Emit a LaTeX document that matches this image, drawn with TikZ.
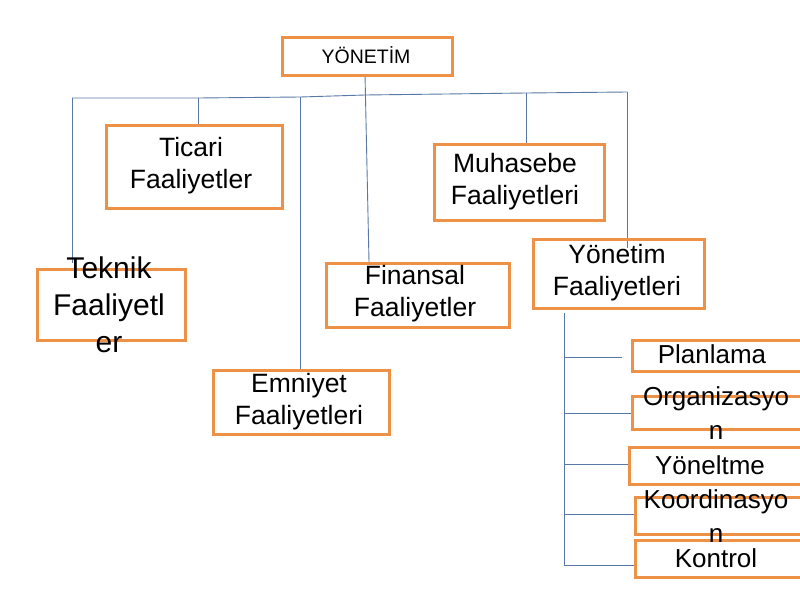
\documentclass[tikz,border=0pt]{standalone}
\usepackage{fontspec}
\setmainfont{Liberation Sans}
\definecolor{boxorange}{RGB}{236,145,70}
\definecolor{linkblue}{RGB}{88,120,165}
\tikzset{
  box/.style={draw=boxorange, line width=2.5pt, rectangle, inner sep=0pt, anchor=north west, fill=none},
  conn/.style={draw=linkblue, line width=0.9pt},
  lbl/.style={align=center, inner sep=0pt, font=\fontsize{26.5}{32}\selectfont},
  biglbl/.style={align=center, inner sep=0pt, font=\fontsize{30}{37}\selectfont},
  smalllbl/.style={align=center, inner sep=0pt, font=\fontsize{19.5}{23}\selectfont},
  sidelbl/.style={align=center, inner sep=0pt, font=\fontsize{26}{34}\selectfont}
}
\begin{document}
\begin{tikzpicture}[x=1pt,y=-1pt]
\useasboundingbox (0,0) rectangle (800,600);
\clip (0,0) rectangle (800,600);
\fill[white] (0,0) rectangle (800,600);

% junction coordinates on the top bar
\coordinate (bL) at (72,98);
\coordinate (bT) at (198,98);
\coordinate (bE) at (300,97);
\coordinate (bY) at (365,95);
\coordinate (bM) at (526,93);
\coordinate (bR) at (627,92);
\coordinate (fT) at (369,262);
\coordinate (yfIn) at (627,248);
\coordinate (tTop) at (564,313);
\coordinate (tBot) at (564,565);
\coordinate (t1) at (564,357);
\coordinate (t2) at (564,413);
\coordinate (t3) at (564,464);
\coordinate (t4) at (564,514);
\coordinate (t5) at (564,565);
\coordinate (e1) at (622,357);

% connectors (drawn first)
\draw[conn] (bL) -- (bT) -- (bE) -- (bY) -- (bM) -- (bR);
\draw[conn] (365,74) -- (fT);
\draw[conn] (bL) -- (72,263);
\draw[conn] (bT) -- (198,124);
\draw[conn] (bE) -- (300,370);
\draw[conn] (bM) -- (526,143);
\draw[conn] (bR) -- (yfIn);
\draw[conn] (tTop) -- (tBot);

% boxes
\node[box, minimum width=170pt, minimum height=38pt] (yon) at (281,36) {};
\node[box, minimum width=176pt, minimum height=83pt] (tic) at (105,124) {};
\node[box, minimum width=148pt, minimum height=71pt] (tek) at (36,268) {};
\node[box, minimum width=176pt, minimum height=64pt] (emn) at (212,369) {};
\node[box, minimum width=183pt, minimum height=64pt] (fin) at (325,262) {};
\node[box, minimum width=170pt, minimum height=76pt] (muh) at (433,143) {};
\node[box, minimum width=171pt, minimum height=69pt] (yf) at (532,238) {};
\node[box, minimum width=180pt, minimum height=31pt] (pla) at (631,339) {};
\node[box, minimum width=180pt, minimum height=33pt] (org) at (631,395) {};
\node[box, minimum width=180pt, minimum height=37pt] (ynl) at (628,446) {};
\node[box, minimum width=180pt, minimum height=37pt] (koo) at (634,496) {};
\node[box, minimum width=180pt, minimum height=37pt] (kon) at (634,539) {};

% branches of the right-hand tree
\draw[conn] (t1) -- (e1);
\draw[conn] (t2) -- (t2 -| org.west);
\draw[conn] (t3) -- (t3 -| ynl.west);
\draw[conn] (t4) -- (t4 -| koo.west);
\draw[conn] (t5) -- (t5 -| kon.west);

% labels
\node[smalllbl] (yonT) at (366,55) {YÖNETİM};
\node[lbl] (ticT) at (191,166) {Ticari\\Faaliyetler};
\node[biglbl] (tekT) at (109,305) {Teknik\\Faaliyetl\\er};
\node[lbl] (emnT) at (299,402) {Emniyet\\Faaliyetleri};
\node[lbl] (finT) at (415,294) {Finansal\\Faaliyetler};
\node[lbl] (muhT) at (515,182) {Muhasebe\\Faaliyetleri};
\node[lbl] (yfT) at (617,273) {Yönetim\\Faaliyetleri};
\node[sidelbl] (plaT) at (712,354) {Planlama};
\node[sidelbl] (orgT) at (716,413) {Organizasyo\\n};
\node[sidelbl] (ynlT) at (710,465) {Yöneltme};
\node[sidelbl] (kooT) at (716,516) {Koordinasyo\\n};
\node[sidelbl] (konT) at (716,558) {Kontrol};
\end{tikzpicture}
\end{document}
